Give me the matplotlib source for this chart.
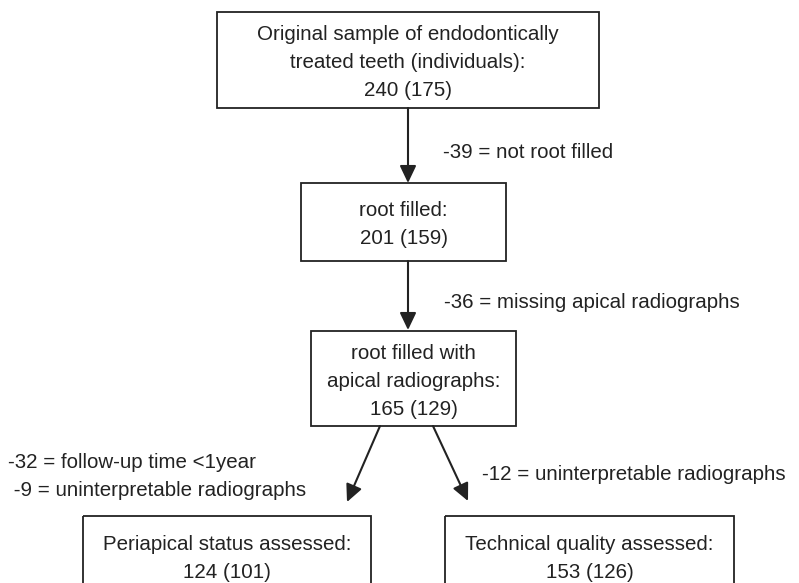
import matplotlib
matplotlib.use("Agg")
import matplotlib.pyplot as plt
from matplotlib.patches import Rectangle

plt.rcParams['font.family'] = ['Liberation Sans', 'DejaVu Sans']

box_texts = [
    "Original sample of endodontically\ntreated teeth (individuals):\n240 (175)",
    "root filled:\n201 (159)",
    "root filled with\napical radiographs:\n165 (129)",
    "Periapical status assessed:\n124 (101)",
    "Technical quality assessed:\n153 (126)",
]
# box geometry in pixel units: left, top, right, bottom
box_geom = [
    (217, 12, 599, 108),
    (301, 183, 506, 261),
    (311, 331, 516, 426),
    (83, 516, 371, 610),
    (445, 516, 734, 610),
]
exclusion_labels = [
    "-39 = not root filled",
    "-36 = missing apical radiographs",
    "-32 = follow-up time <1year\n -9 = uninterpretable radiographs",
    "-12 = uninterpretable radiographs",
]
label_pos = [(443, 153), (444, 303), (8, 476), (482, 474)]
arrows = [((408, 108), (408, 183)), ((408, 261), (408, 330)),
          ((380, 426), (347, 502)), ((433, 426), (468, 501))]

col = "#222222"
fig = plt.figure(figsize=(7.99, 5.83), dpi=100)
ax = fig.add_axes([0, 0, 1, 1])
ax.set_xlim(0, 799)
ax.set_ylim(583, 0)
ax.axis("off")

fs = 14.8
ls = 1.6
for (l, t, r, b), txt in zip(box_geom, box_texts):
    ax.add_patch(Rectangle((l, t), r - l, b - t, fill=False, ec=col, lw=1.3))
    if b > 583:
        cy = t + 42
    else:
        cy = (t + b) / 2 + 3
    ax.text((l + r) / 2, cy, txt, ha="center", va="center", fontsize=fs,
            color=col, linespacing=ls)

for (x, y), txt in zip(label_pos, exclusion_labels):
    ax.text(x, y, txt, ha="left", va="center", fontsize=fs, color=col,
            linespacing=ls)

for (x0, y0), (x1, y1) in arrows:
    ax.annotate("", xy=(x1, y1), xytext=(x0, y0),
                arrowprops=dict(arrowstyle="-|>,head_length=1.05,head_width=0.5",
                                color=col, lw=1.5, shrinkA=0, shrinkB=0))

fig.savefig("out.png", dpi=100)
